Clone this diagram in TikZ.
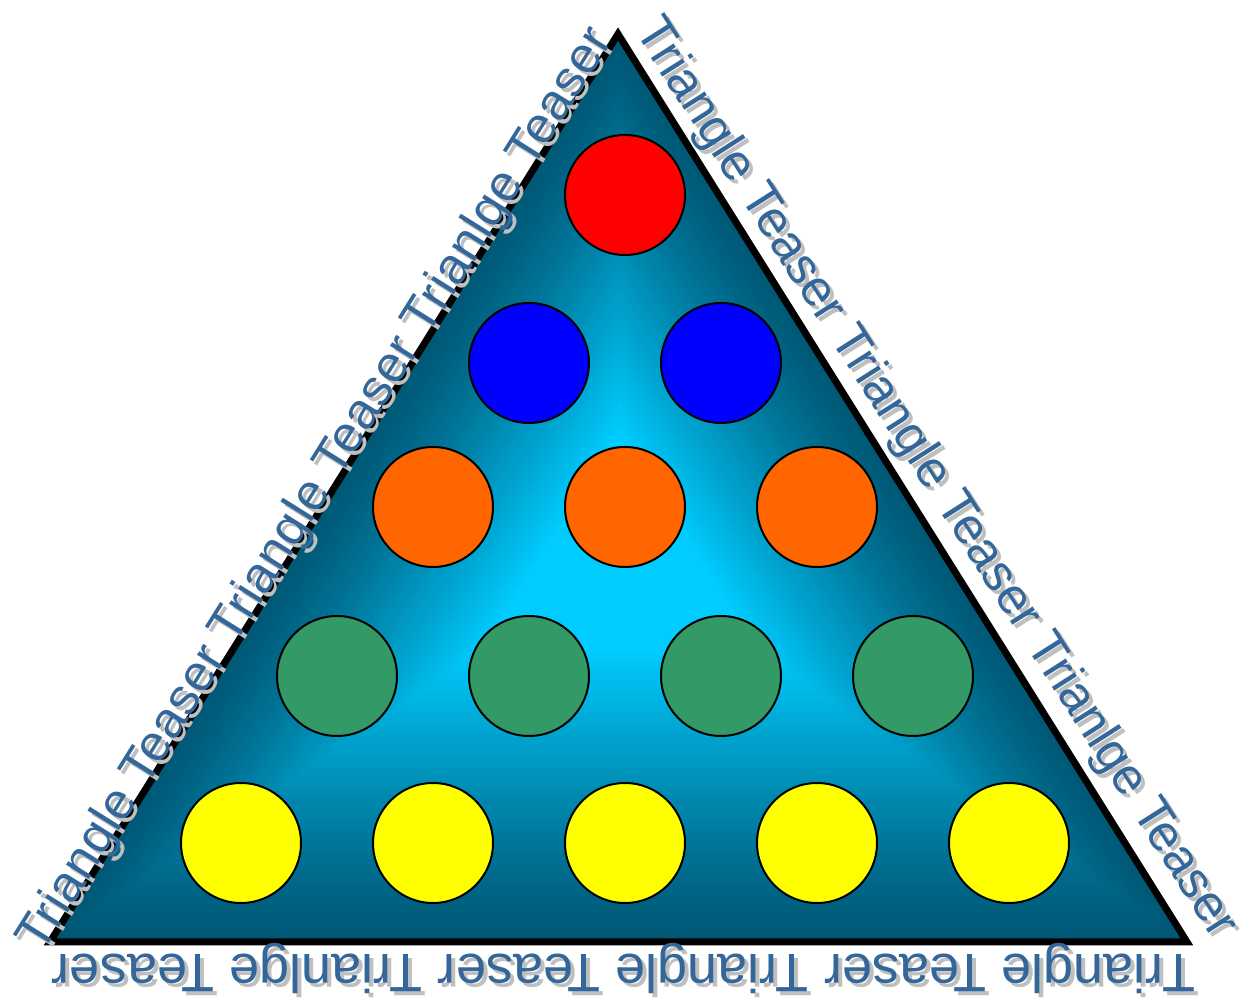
\documentclass[tikz,border=0pt]{standalone}
\usepackage{fontspec}
\setmainfont{Liberation Sans}
\usetikzlibrary{calc}
\definecolor{tealedge}{RGB}{0,88,118}
\definecolor{tealmid}{RGB}{0,204,255}
\definecolor{teaserblue}{RGB}{51,102,153}
\definecolor{ballgreen}{RGB}{51,153,102}
\definecolor{ballorange}{RGB}{255,102,0}
\definecolor{ballyellow}{RGB}{255,255,0}
\tikzset{
  ball/.style={circle,draw=black,line width=1.5pt,minimum size=90pt,inner sep=0pt},
  sidetext/.style={font=\fontsize{38.3}{45}\selectfont,text=teaserblue,inner sep=0pt,outer sep=0pt,anchor=base west},
  sideshadow/.style={sidetext,text=gray!50},
  basetext/.style={font=\fontsize{40.6}{45}\selectfont},
}
\newcommand{\teaser}{Triangle Teaser Triangle Teaser Trianlge Teaser}

\begin{document}
\begin{tikzpicture}[x=0.75pt,y=0.75pt]
\useasboundingbox (0,0) rectangle (1245,998);
\coordinate (top) at (618,964);
\coordinate (left) at (50,56);
\coordinate (right) at (1187,56);
\coordinate (ctr) at (620,440);
% shape-following gradient, dark rim to bright middle
\foreach \i in {0,...,59}{
  \pgfmathsetmacro\s{1-\i/60}
  \pgfmathtruncatemacro\p{100*min(1,max(0,(1-\s)/0.75))^1.2}
  \fill[tealmid!\p!tealedge] ($(ctr)!\s!(top)$) -- ($(ctr)!\s!(left)$) -- ($(ctr)!\s!(right)$) -- cycle;
}
\draw[line width=5.25pt,line join=miter] (top) -- (left) -- (right) -- cycle;

% text round the sides, shadow first
\node[sideshadow,rotate=58] (leftsh) at (46,39) {\teaser};
\node[sidetext,rotate=58] (lefttext) at (42,43) {\teaser};
\node[sideshadow,rotate=-57.5] (rightsh) at (638,963) {\teaser};
\node[sidetext,rotate=-57.5] (righttext) at (634,967) {\teaser};
\node[sideshadow,basetext,rotate=180] (bottomsh) at (1199,39) {\teaser};
\node[sidetext,basetext,rotate=180] (bottomtext) at (1195,43) {\teaser};

% the balls
\node[ball,fill=red] (red) at (625,803) {};
\foreach \k in {0,1}
  \node[ball,fill=blue] (blue\k) at (529+192*\k,635) {};
\foreach \k in {0,...,2}
  \node[ball,fill=ballorange] (orange\k) at (433+192*\k,491) {};
\foreach \k in {0,...,3}
  \node[ball,fill=ballgreen] (green\k) at (337+192*\k,322) {};
\foreach \k in {0,...,4}
  \node[ball,fill=ballyellow] (yellow\k) at (241+192*\k,155) {};
\end{tikzpicture}
\end{document}
